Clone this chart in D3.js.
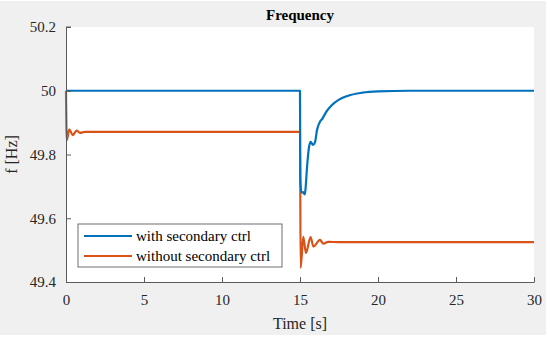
<!DOCTYPE html>
<html>
<head>
<meta charset="utf-8">
<script src="https://cdn.jsdelivr.net/npm/d3@7"></script>
<style>
  html, body { margin: 0; padding: 0; background: #fff; }
  svg { display: block; }
  svg text { font-family: "Liberation Serif", "Times New Roman", serif; }
</style>
</head>
<body>
<svg id="canvas" width="550" height="338"></svg>
<script>
// data
var seriesNames = ['with secondary ctrl', 'without secondary ctrl'];
var seriesColors = ['#0072BD', '#D95319'];

var tWith = [0, 15, 15.02, 15.1, 15.2, 15.3, 15.35, 15.45, 15.58, 15.68, 15.83, 15.96, 16.09, 16.28, 16.4, 16.5, 16.7, 17, 17.5, 18, 19, 20, 22, 30];
var fWith = [50, 50, 49.72, 49.68, 49.682, 49.675, 49.69, 49.76, 49.824, 49.84, 49.83, 49.838, 49.877, 49.903, 49.91, 49.918, 49.935, 49.953, 49.972, 49.983, 49.994, 49.998, 50, 50];

var tWithout = [0, 0.05, 0.21, 0.43, 0.68, 0.9, 1.2, 15, 15.04, 15.21, 15.38, 15.68, 15.86, 16.28, 16.5, 16.8, 17.5, 30];
var fWithout = [50, 49.845, 49.879, 49.861, 49.875, 49.868, 49.871, 49.871, 49.444, 49.542, 49.491, 49.541, 49.511, 49.532, 49.52, 49.526, 49.525, 49.525];

var xTicks = [0, 5, 10, 15, 20, 25, 30];
var yTicks = [49.4, 49.6, 49.8, 50, 50.2];

var series = [
    { name: seriesNames[0], color: seriesColors[0], values: d3.zip(tWith, fWith) },
    { name: seriesNames[1], color: seriesColors[1], values: d3.zip(tWithout, fWithout) }
];

var svg = d3.select('#canvas'),
    margin = { left: 66, top: 27, right: 16, bottom: 56 },
    W = 550, H = 338,
    x = d3.scaleLinear().domain([0, 30]).range([margin.left, W - margin.right]),
    y = d3.scaleLinear().domain([49.4, 50.2]).range([H - margin.bottom, margin.top]),
    serif = '"Liberation Serif", "Times New Roman", serif',
    axisColor = '#5a5a5a';

// figure background
svg.append('rect').attr('x', 0).attr('y', 1).attr('width', 546).attr('height', 334).attr('fill', '#f0f0f0');
svg.append('rect')
    .attr('x', x(0)).attr('y', y(50.2))
    .attr('width', x(30) - x(0)).attr('height', y(49.4) - y(50.2))
    .attr('fill', '#fff');

// lines
var line = d3.line()
    .x(function(d) { return x(d[0]); })
    .y(function(d) { return y(d[1]); })
    .curve(d3.curveMonotoneX);

svg.append('g').selectAll('path')
    .data(series.slice().reverse())
    .enter().append('path')
    .attr('d', function(d) { return line(d.values); })
    .attr('fill', 'none')
    .attr('stroke', function(d) { return d.color; })
    .attr('stroke-width', 2.2)
    .attr('stroke-linejoin', 'round');

// axes (left and bottom only, ticks inside)
var xAxis = svg.append('g')
    .attr('transform', 'translate(0,' + y(49.4) + ')')
    .call(d3.axisBottom(x).tickValues(xTicks).tickSizeInner(-5).tickSizeOuter(0).tickPadding(12));
var yAxis = svg.append('g')
    .attr('transform', 'translate(' + x(0) + ',0)')
    .call(d3.axisLeft(y).tickValues(yTicks).tickSizeInner(-5).tickSizeOuter(0).tickPadding(10)
        .tickFormat(function(d) { return d3.format('')(+d.toFixed(1)); }));

[xAxis, yAxis].forEach(function(a) {
    a.attr('font-family', serif).attr('font-size', 15);
    a.select('.domain').attr('stroke', axisColor).attr('stroke-width', 1);
    a.selectAll('.tick line').attr('stroke', axisColor);
    a.selectAll('.tick text')
        .attr('fill', '#262626')
        .attr('font-family', serif);
});
svg.append('line')
    .attr('x1', x(0)).attr('x2', x(0) + 5)
    .attr('y1', y(50.2)).attr('y2', y(50.2))
    .attr('stroke', axisColor);

// labels
svg.append('text')
    .attr('x', (x(0) + x(30)) / 2).attr('y', 20)
    .attr('text-anchor', 'middle')
    .attr('font-family', serif)
    .style('font-size', '15px').style('font-weight', 'bold')
    .attr('fill', '#000')
    .text('Frequency');
svg.append('text')
    .attr('x', (x(0) + x(30)) / 2).attr('y', 329)
    .attr('text-anchor', 'middle')
    .attr('font-family', serif)
    .style('font-size', '16px')
    .attr('fill', '#262626')
    .text('Time [s]');
svg.append('text')
    .attr('transform', 'translate(17,' + ((y(49.4) + y(50.2)) / 2) + ') rotate(-90)')
    .attr('text-anchor', 'middle')
    .attr('font-family', serif)
    .style('font-size', '16px')
    .attr('fill', '#262626')
    .text('f [Hz]');

// legend
var legend = svg.append('g').attr('transform', 'translate(78,224)');
legend.append('rect')
    .attr('width', 204).attr('height', 43)
    .attr('fill', '#fff').attr('stroke', '#6e6e6e').attr('stroke-width', 1);
var item = legend.selectAll('.item')
    .data(series)
    .enter().append('g')
    .attr('class', 'item')
    .attr('transform', function(d, i) { return 'translate(0,' + (12 + i * 20) + ')'; });
item.append('line')
    .attr('x1', 6).attr('x2', 54)
    .attr('stroke', function(d) { return d.color; })
    .attr('stroke-width', 2.2);
item.append('text')
    .attr('x', 58).attr('y', 5)
    .attr('font-family', serif)
    .style('font-size', '15px')
    .attr('fill', '#000')
    .text(function(d) { return d.name; });
</script>
</body>
</html>
